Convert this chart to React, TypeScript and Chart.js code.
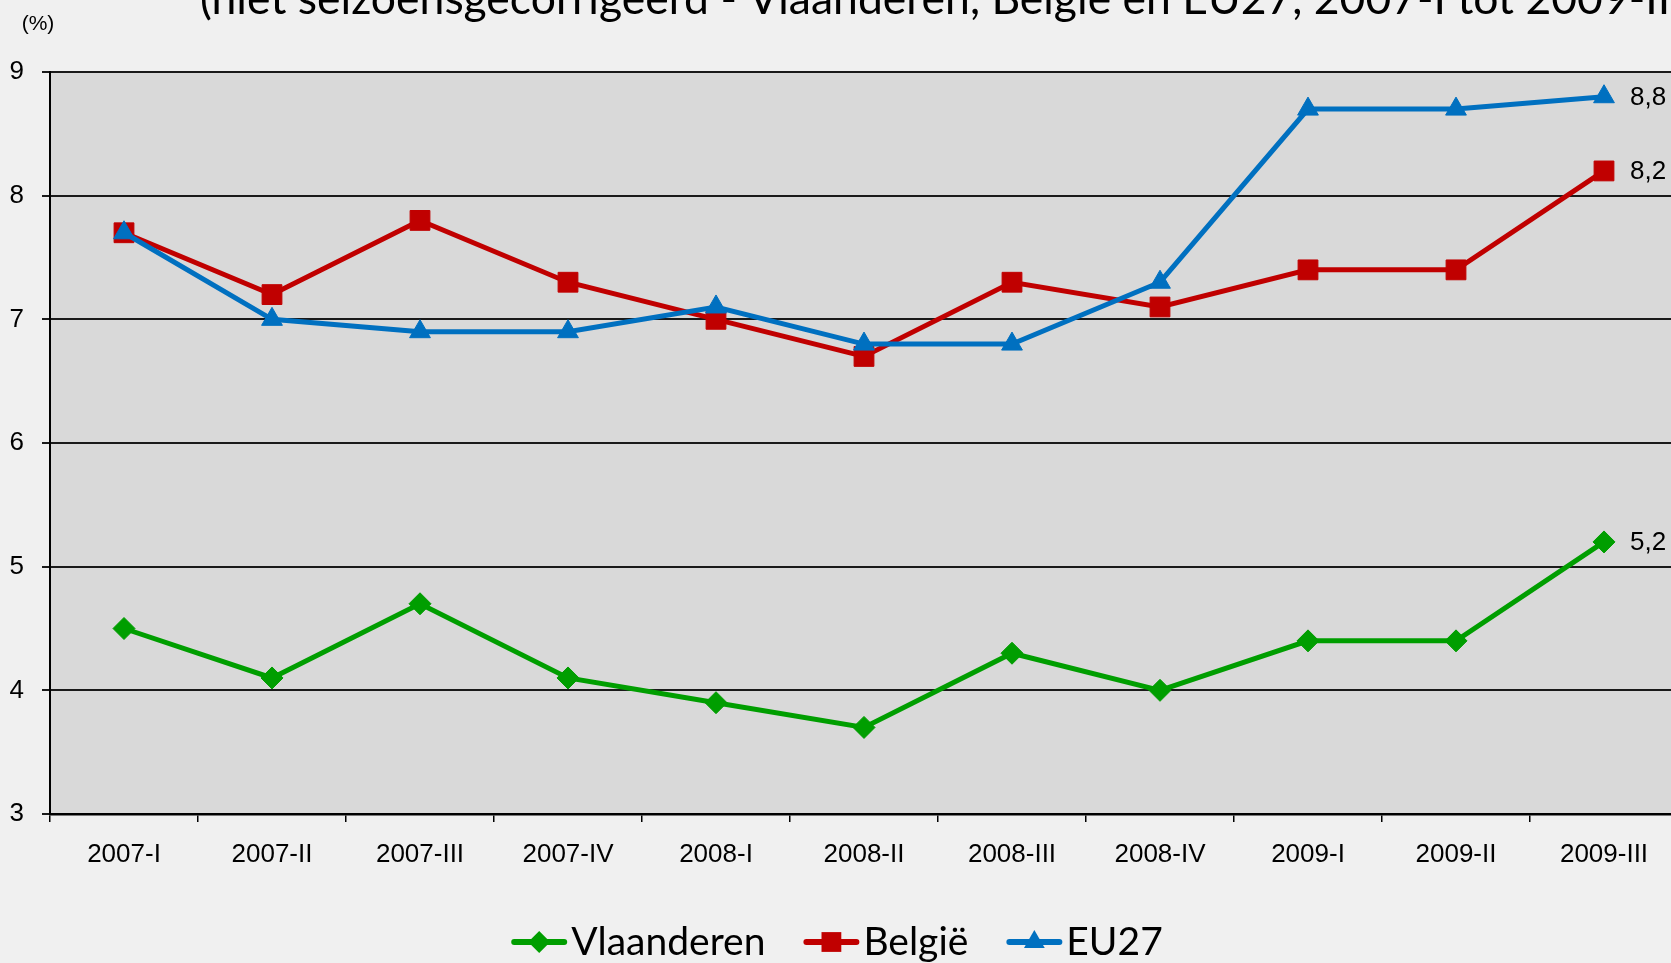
import React, { useEffect, useRef } from 'react';
import { Chart, registerables } from 'chart.js';

Chart.register(...registerables);

// ---- data ----
const categories = ['2007-I', '2007-II', '2007-III', '2007-IV', '2008-I', '2008-II', '2008-III', '2008-IV', '2009-I', '2009-II', '2009-III'];
const vlaanderen = [4.5, 4.1, 4.7, 4.1, 3.9, 3.7, 4.3, 4.0, 4.4, 4.4, 5.2];
const belgie = [7.7, 7.2, 7.8, 7.3, 7.0, 6.7, 7.3, 7.1, 7.4, 7.4, 8.2];
const eu27 = [7.7, 7.0, 6.9, 6.9, 7.1, 6.8, 6.8, 7.3, 8.7, 8.7, 8.8];
const yTicks = [3, 4, 5, 6, 7, 8, 9];
const seriesNames = ['Vlaanderen', 'België', 'EU27'];
const titleText = '(niet seizoensgecorrigeerd - Vlaanderen, België en EU27, 2007-I tot 2009-III)';
const unitLabel = '(%)';

const GREEN = '#009e00';
const RED = '#c00000';
const BLUE = '#0070c0';

const W = 1700;
const H = 963;
const PLOT_LEFT = 50;
const PLOT_RIGHT = 1678;
const PLOT_TOP = 72;
const PLOT_BOTTOM = 814;

const AXIS_FONT = "'Liberation Sans', Arial, sans-serif";
const CAL_FONT = "Lato, 'Noto Sans', sans-serif";

function drawMarker(ctx: CanvasRenderingContext2D, style: string, x: number, y: number, r: number, color: string) {
  ctx.save();
  ctx.fillStyle = color;
  ctx.beginPath();
  if (style === 'rectRot') {
    ctx.moveTo(x, y - r);
    ctx.lineTo(x + r, y);
    ctx.lineTo(x, y + r);
    ctx.lineTo(x - r, y);
  } else if (style === 'rect') {
    const s = r * Math.SQRT1_2;
    ctx.rect(x - s, y - s, 2 * s, 2 * s);
  } else {
    const h = r * 1.5;
    const half = r * 0.866;
    ctx.moveTo(x, y - r);
    ctx.lineTo(x + half, y - r + h);
    ctx.lineTo(x - half, y - r + h);
  }
  ctx.closePath();
  ctx.fill();
  ctx.restore();
}

const bgPlugin = {
  id: 'bgPlugin',
  beforeDraw(chart: any) {
    const { ctx, chartArea: a, width, height } = chart;
    ctx.save();
    ctx.fillStyle = '#f0f0f0';
    ctx.fillRect(0, 0, width, height);
    ctx.fillStyle = '#d9d9d9';
    ctx.fillRect(a.left, a.top, a.right - a.left, a.bottom - a.top);
    ctx.restore();
  },
};

const overlayPlugin = {
  id: 'overlayPlugin',
  afterDraw(chart: any) {
    const ctx: CanvasRenderingContext2D = chart.ctx;
    ctx.save();

    // title (cropped at the top in the reference)
    const prefix = '(niet seizoensgecorrigeerd - Vlaanderen, België en EU27, 2007-I tot ';
    ctx.font = `40px ${CAL_FONT}`;
    const m = ctx.measureText(prefix).width;
    const tSize = (40 * 1326) / m;
    ctx.font = `${tSize}px ${CAL_FONT}`;
    ctx.fillStyle = '#000';
    ctx.textAlign = 'left';
    ctx.textBaseline = 'alphabetic';
    ctx.fillText(titleText, 200, 14);

    // unit label
    ctx.font = `21px ${AXIS_FONT}`;
    ctx.textAlign = 'center';
    ctx.textBaseline = 'middle';
    ctx.fillText(unitLabel, 38, 24);

    // end-value labels
    ctx.font = `26px ${AXIS_FONT}`;
    ctx.textAlign = 'left';
    chart.data.datasets.forEach((ds: any, i: number) => {
      const meta = chart.getDatasetMeta(i);
      const n = ds.data.length;
      const pt = meta.data[n - 1];
      const v = ds.data[n - 1] as number;
      ctx.fillText(v.toFixed(1).replace('.', ','), pt.x + 26, pt.y + 1);
    });

    // legend
    const items = chart.data.datasets.map((ds: any) => ({
      label: ds.label,
      color: ds.borderColor,
      style: ds.pointStyle,
      r: ds.pointRadius,
    }));
    ctx.font = `39px ${CAL_FONT}`;
    const lineLen = 56;
    const textGap = 4;
    const itemGap = 38;
    const widths = items.map((it: any) => lineLen + textGap + ctx.measureText(it.label).width);
    const total = widths.reduce((a: number, b: number) => a + b, 0) + itemGap * (items.length - 1);
    let x = 837 - total / 2;
    const ly = 942;
    items.forEach((it: any, i: number) => {
      ctx.strokeStyle = it.color;
      ctx.lineWidth = 6;
      ctx.lineCap = 'round';
      ctx.beginPath();
      ctx.moveTo(x + 3, ly);
      ctx.lineTo(x + lineLen - 3, ly);
      ctx.stroke();
      drawMarker(ctx, it.style, x + lineLen / 2, ly, it.r, it.color);
      ctx.fillStyle = '#000';
      ctx.textAlign = 'left';
      ctx.textBaseline = 'alphabetic';
      ctx.fillText(it.label, x + lineLen + textGap, 955);
      x += widths[i] + itemGap;
    });

    ctx.restore();
  },
};

export default function App() {
  const ref = useRef<HTMLCanvasElement | null>(null);

  useEffect(() => {
    if (!ref.current) return;
    const chart = new Chart(ref.current, {
      type: 'line',
      data: {
        labels: categories,
        datasets: [
          {
            label: seriesNames[0],
            data: vlaanderen,
            borderColor: GREEN,
            backgroundColor: GREEN,
            pointBackgroundColor: GREEN,
            pointBorderColor: GREEN,
            pointStyle: 'rectRot',
            pointRadius: 11,
            pointBorderWidth: 1,
            borderWidth: 5,
            tension: 0,
            order: 2,
          },
          {
            label: seriesNames[1],
            data: belgie,
            borderColor: RED,
            backgroundColor: RED,
            pointBackgroundColor: RED,
            pointBorderColor: RED,
            pointStyle: 'rect',
            pointRadius: 14,
            pointBorderWidth: 1,
            borderWidth: 5,
            tension: 0,
            order: 1,
          },
          {
            label: seriesNames[2],
            data: eu27,
            borderColor: BLUE,
            backgroundColor: BLUE,
            pointBackgroundColor: BLUE,
            pointBorderColor: BLUE,
            pointStyle: 'triangle',
            pointRadius: 12,
            pointBorderWidth: 1,
            borderWidth: 5,
            tension: 0,
            order: 0,
          },
        ],
      },
      options: {
        responsive: false,
        animation: false,
        devicePixelRatio: 1,
        layout: {
          padding: { left: 0, right: W - PLOT_RIGHT, top: PLOT_TOP, bottom: 0 },
        },
        plugins: {
          legend: { display: false },
          title: { display: false },
          tooltip: { enabled: false },
        },
        scales: {
          x: {
            type: 'category',
            offset: true,
            grid: {
              offset: true,
              drawOnChartArea: false,
              drawTicks: true,
              tickLength: 8,
              color: '#000',
              lineWidth: 1.5,
            },
            border: { display: true, color: '#000', width: 2.5 },
            ticks: {
              color: '#000',
              font: { family: AXIS_FONT, size: 26 },
              padding: 17,
              maxRotation: 0,
              autoSkip: false,
            },
            afterFit: (s: any) => {
              s.height = H - PLOT_BOTTOM;
            },
          },
          y: {
            min: 3,
            max: 9,
            afterBuildTicks: (s: any) => {
              s.ticks = yTicks.map((v) => ({ value: v }));
            },
            grid: {
              color: '#1a1a1a',
              lineWidth: 2,
              drawTicks: true,
              tickLength: 8,
            },
            border: { display: true, color: '#000', width: 2 },
            ticks: {
              color: '#000',
              font: { family: AXIS_FONT, size: 26 },
              padding: 18,
            },
            afterFit: (s: any) => {
              s.width = PLOT_LEFT;
            },
          },
        },
      },
      plugins: [bgPlugin, overlayPlugin],
    } as any);
    return () => chart.destroy();
  }, []);

  return (
    <div
      style={{
        position: 'fixed',
        left: 0,
        top: 0,
        width: 1671,
        height: 963,
        overflow: 'hidden',
        background: '#f0f0f0',
      }}
    >
      <canvas ref={ref} width={W} height={H} style={{ display: 'block', width: W, height: H }} />
    </div>
  );
}
